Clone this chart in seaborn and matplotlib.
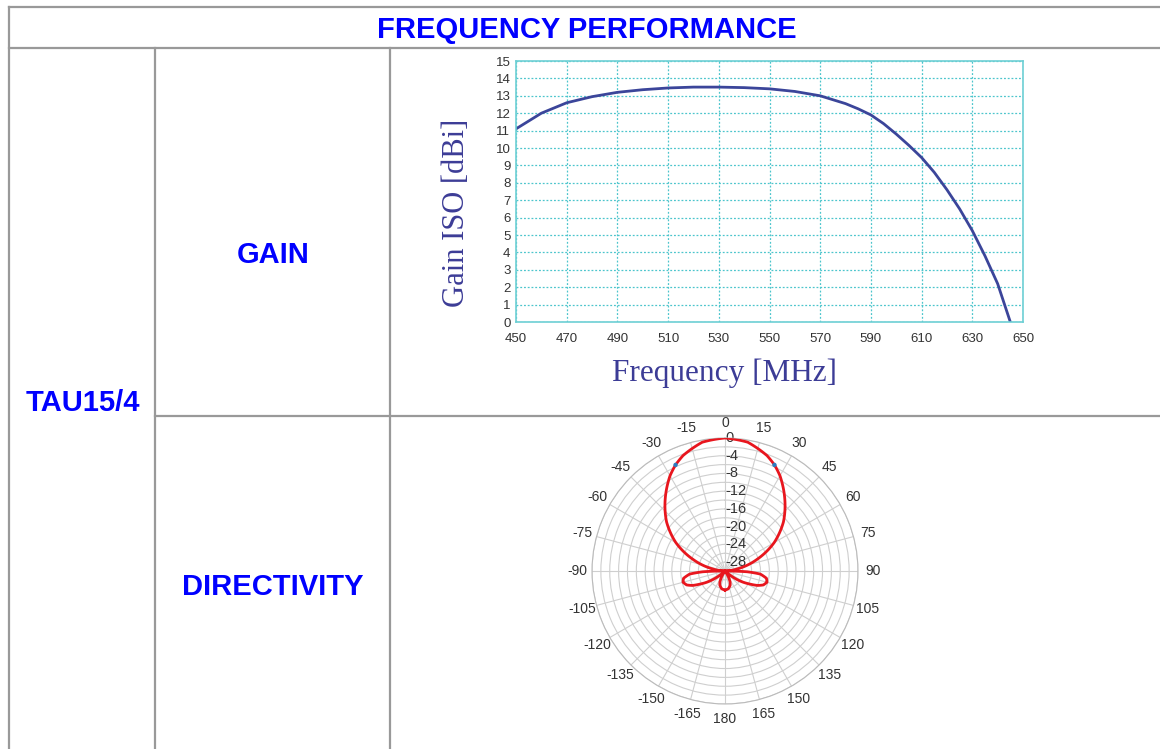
import numpy as np
import pandas as pd
import seaborn as sns
import matplotlib.pyplot as plt
from matplotlib.lines import Line2D

# Gain vs frequency
freq_mhz = [450, 460, 470, 480, 490, 500, 510, 520, 530, 540, 550, 560, 570,
            580, 585, 590, 595, 600, 605, 610, 615, 620, 625, 630, 635, 640, 645]
gain_dbi = [11.1, 12.0, 12.6, 12.95, 13.2, 13.35, 13.45, 13.5, 13.5, 13.47, 13.4, 13.25, 13.0,
            12.55, 12.25, 11.9, 11.4, 10.8, 10.15, 9.45, 8.6, 7.6, 6.5, 5.25, 3.8, 2.2, 0.0]

# Directivity pattern (degrees, dB)
pattern_deg = [-180, -170, -160, -155, -150, -145, -135, -130, -126, -122, -118, -114, -110, -105,
               -100, -95, -92, -90, -85, -80, -70, -60, -50, -40, -30, -25, -20, -10,
               0, 10, 20, 25, 30, 40, 50, 60, 70, 80, 85, 90, 92, 95, 100, 105,
               110, 114, 118, 122, 126, 130, 135, 145, 150, 155, 160, 170, 180]
pattern_db = [-25.7, -25.9, -26.6, -27.3, -28.5, -30, -30, -28.8, -27, -25.3, -23.8, -22, -20.8, -20.2,
              -20.5, -22, -25, -30, -28.8, -27.0, -22.3, -17.2, -12.8, -9.0, -5.2, -3.6, -2.3, -0.5,
              0, -0.5, -2.3, -3.6, -5.2, -9.0, -12.8, -17.2, -22.3, -27.0, -28.8, -30, -25, -22, -20.5, -20.2,
              -20.8, -22, -23.8, -25.3, -27, -28.8, -30, -30, -28.5, -27.3, -26.6, -25.9, -25.7]

# -3 dB markers
marker_deg = [-25, 25]
marker_db = [-3.6, -3.6]

theta_ticks = list(range(0, 360, 15))
theta_labels = ['0', '15', '30', '45', '60', '75', '90', '105', '120', '135', '150', '165', '180',
                '-165', '-150', '-135', '-120', '-105', '-90', '-75', '-60', '-45', '-30', '-15']
r_ticks = list(range(-30, 1, 2))
r_labels = [0, -4, -8, -12, -16, -20, -24, -28]

W, H = 1160, 749
plt.rcParams['font.family'] = ['Liberation Sans', 'DejaVu Sans']

fig = plt.figure(figsize=(W / 100, H / 100), dpi=100)
fig.patch.set_facecolor('white')

# table lines (pixel positions converted to figure fraction)
def hline(y, x0, x1):
    fig.add_artist(Line2D([x0 / W, x1 / W], [1 - y / H, 1 - y / H], color='#999999', lw=1.6))

def vline(x, y0, y1):
    fig.add_artist(Line2D([x / W, x / W], [1 - y0 / H, 1 - y1 / H], color='#999999', lw=1.6))

hline(7, 9, W)
hline(48, 9, W)
hline(416, 155, W)
vline(9, 7, H)
vline(155, 48, H)
vline(390, 48, H)

txt = dict(color='#0000ff', fontweight='bold', fontsize=21, ha='center', va='center')
fig.text(587 / W, 1 - 30 / H, 'FREQUENCY PERFORMANCE', **txt)
fig.text(83 / W, 1 - 403 / H, 'TAU15/4', **txt)
fig.text(273 / W, 1 - 255 / H, 'GAIN', **txt)
fig.text(273 / W, 1 - 587 / H, 'DIRECTIVITY', **txt)

# Gain plot
df_gain = pd.DataFrame({'freq': freq_mhz, 'gain': gain_dbi})
ax1 = fig.add_axes([516 / W, 1 - 322 / H, 507 / W, 261 / H])
sns.lineplot(data=df_gain, x='freq', y='gain', ax=ax1, color='#3b459a', lw=2)
ax1.set_xlim(450, 650)
ax1.set_ylim(0, 15)
ax1.set_xticks(range(450, 651, 20))
ax1.set_yticks(range(0, 16))
ax1.tick_params(length=0, pad=4, labelsize=9.5, labelcolor='#333333')
ax1.tick_params(axis='x', pad=8)
ax1.grid(True, color='#4cc5cc', linestyle=(0, (1.5, 1.5)), lw=0.9)
ax1.set_axisbelow(True)
for s in ax1.spines.values():
    s.set_color('#6dcfd4')
    s.set_linewidth(1.2)
serif = ['Liberation Serif', 'DejaVu Serif']
ax1.set_ylabel('Gain ISO [dBi]', family=serif, fontsize=22, color='#3c3c96')
ax1.set_xlabel('Frequency [MHz]', family=serif, fontsize=22.5, color='#3c3c96')
ax1.yaxis.set_label_coords(-0.089, 0.42)
ax1.xaxis.set_label_coords(0.412, -0.14)

# Directivity polar plot
cx, cy, rad = 725, 571, 133
axp = fig.add_axes([(cx - rad) / W, 1 - (cy + rad) / H, 2 * rad / W, 2 * rad / H], projection='polar')
axp.set_theta_zero_location('N')
axp.set_theta_direction(-1)
sns.lineplot(x=np.deg2rad(pattern_deg), y=pattern_db, ax=axp, color='#e8161e', lw=2, sort=False, zorder=3)
# draw the pattern as curves in polar space, not straight chords
for ln in axp.lines:
    ln.get_path()._interpolation_steps = 40
sns.scatterplot(x=np.deg2rad(marker_deg), y=marker_db, ax=axp, color='#2b7bbf', s=10,
                edgecolor='none', zorder=4)
axp.set_ylim(-30, 0)
axp.set_yticks(r_ticks)
axp.set_yticklabels([])
axp.set_xticks(np.deg2rad(theta_ticks))
axp.set_xticklabels(theta_labels)
axp.tick_params(axis='x', pad=0, labelsize=10, labelcolor='#333333')
axp.grid(True, color='#cfcfcf', lw=0.8)
axp.spines['polar'].set_color('#bbbbbb')
axp.spines['polar'].set_linewidth(0.8)
for v in r_labels:
    axp.text(0, v, str(v), ha='left', va='center', fontsize=10.5, color='#333333', zorder=2)
axp.set_xlabel('')
axp.set_ylabel('')

fig.savefig('out.png', dpi=100)
